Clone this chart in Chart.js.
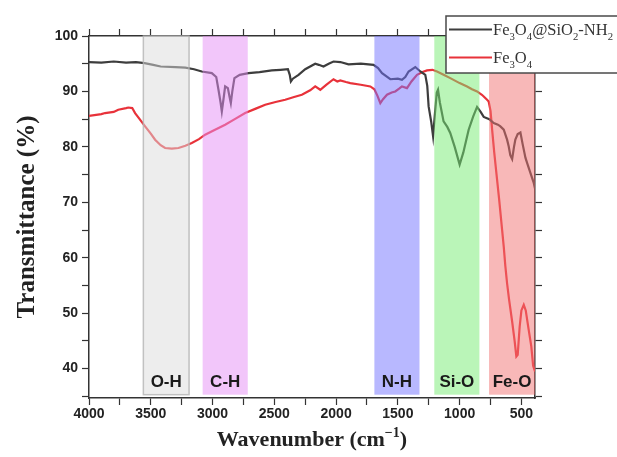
<!DOCTYPE html>
<html lang="en">
<head>
    <meta charset="UTF-8">
    <title>FTIR spectra</title>
    <script src="https://cdn.jsdelivr.net/npm/chart.js"></script>
    <style>
        body {
            margin: 0;
            background: #ffffff;
        }
        canvas {
            display: block;
        }
    </style>
</head>
<body>
    <canvas id="ftirChart" width="617" height="457"></canvas>

    <script>
        // Fe3O4@SiO2-NH2 spectrum (wavenumber, transmittance)
        const wnCoated = [4000, 3900, 3800, 3700, 3620, 3550, 3480, 3420, 3300, 3220, 3150, 3087, 3006, 2970, 2952, 2935, 2925, 2912, 2898, 2876, 2862, 2852, 2840, 2823, 2780, 2709, 2620, 2520, 2450, 2390, 2375, 2366, 2350, 2304, 2250, 2169, 2140, 2102, 2060, 2021, 1966, 1899, 1800, 1697, 1660, 1628, 1561, 1500, 1467, 1440, 1413, 1359, 1318, 1278, 1262, 1251, 1230, 1215, 1200, 1185, 1175, 1160, 1130, 1100, 1076, 1040, 1000, 970, 927, 890, 859, 830, 805, 760, 724, 690, 670, 643, 616, 603, 590, 575, 560, 549, 530, 508, 490, 467, 454, 430, 400, 390];
        const tCoated = [95.3, 95.2, 95.4, 95.2, 95.3, 95.1, 94.8, 94.5, 94.4, 94.3, 94.0, 93.6, 93.3, 92.6, 90.3, 88.0, 86.4, 88.5, 90.9, 90.6, 89.0, 87.9, 90.0, 92.4, 93.0, 93.3, 93.5, 93.8, 93.9, 94.0, 93.0, 91.8, 92.3, 93.0, 94.0, 95.0, 94.8, 94.5, 95.0, 95.4, 95.3, 94.9, 95.0, 94.8, 94.2, 93.3, 92.2, 92.3, 92.1, 92.6, 93.6, 94.4, 93.6, 93.0, 91.0, 87.3, 84.5, 81.9, 86.0, 89.8, 90.3, 88.0, 84.6, 83.6, 82.5, 80.0, 76.8, 79.0, 83.1, 85.5, 87.2, 86.3, 85.4, 85.0, 84.3, 84.0, 83.7, 83.1, 81.3, 80.1, 78.5, 77.8, 80.0, 81.3, 82.3, 82.6, 80.5, 78.0, 77.1, 75.5, 73.5, 72.5];

        // Fe3O4 spectrum
        const wnBare = [4000, 3900, 3870, 3800, 3763, 3700, 3682, 3650, 3627, 3590, 3546, 3500, 3465, 3420, 3384, 3330, 3276, 3220, 3168, 3110, 3060, 2980, 2898, 2820, 2736, 2650, 2574, 2490, 2412, 2340, 2277, 2210, 2169, 2128, 2080, 2021, 1990, 1966, 1920, 1885, 1800, 1723, 1690, 1665, 1642, 1620, 1588, 1550, 1521, 1490, 1467, 1426, 1390, 1345, 1300, 1264, 1220, 1183, 1130, 1076, 1000, 940, 900, 859, 820, 805, 778, 765, 750, 737, 720, 697, 680, 656, 643, 630, 616, 600, 575, 555, 541, 530, 514, 500, 481, 465, 441, 420, 405, 390];
        const tBare = [85.6, 85.9, 86.1, 86.3, 86.7, 87.0, 87.1, 87.0, 86.1, 85.0, 83.7, 82.4, 81.3, 80.3, 79.8, 79.7, 79.8, 80.2, 80.7, 81.4, 82.2, 83.1, 84.0, 85.0, 86.1, 86.9, 87.6, 88.1, 88.5, 89.0, 89.4, 90.2, 90.9, 90.3, 91.2, 92.2, 91.8, 92.0, 91.7, 91.5, 91.2, 90.9, 90.4, 89.2, 87.9, 88.6, 89.4, 89.8, 90.0, 90.5, 90.9, 90.6, 91.8, 93.0, 93.5, 93.8, 93.9, 93.6, 93.0, 92.4, 91.5, 90.9, 90.4, 90.0, 89.4, 89.1, 88.5, 88.2, 86.5, 83.1, 79.0, 74.1, 70.5, 65.0, 62.0, 58.5, 55.4, 52.5, 48.5, 45.0, 42.2, 42.5, 47.6, 50.5, 51.5, 50.5, 47.0, 44.0, 40.5, 39.5];

        // absorption regions
        const bandNames = ['O-H', 'C-H', 'N-H', 'Si-O', 'Fe-O'];
        const bandFrom = [3560, 3080, 1690, 1205, 762];
        const bandTo = [3190, 2715, 1325, 840, 390];
        const bandFill = ['rgba(220,220,220,0.5)', 'rgba(229,141,245,0.5)', 'rgba(113,113,255,0.5)', 'rgba(117,235,113,0.5)', 'rgba(241,113,113,0.5)'];

        // axis ticks
        const xTickValues = [4000, 3750, 3500, 3250, 3000, 2750, 2500, 2250, 2000, 1750, 1500, 1250, 1000, 750, 500];
        const xTickLabels = [4000, 3500, 3000, 2500, 2000, 1500, 1000, 500];
        const yTickValues = [35, 40, 45, 50, 55, 60, 65, 70, 75, 80, 85, 90, 95, 100];
        const yTickLabels = [40, 50, 60, 70, 80, 90, 100];

        const xMin = 390, xMax = 4000, yMin = 34.7, yMax = 100;
        const axisColor = '#333333';
        const tickFont = { family: '"Liberation Sans", Arial, sans-serif', size: 14, weight: 'bold' };
        const serif = '"Liberation Serif", "Times New Roman", serif';

        const toPoints = (xs, ys) => xs.map((x, i) => ({ x: x, y: ys[i] }));

        function drawFormula(ctx, parts, x, y, size) {
            // parts: [text, isSubscript]
            parts.forEach(([text, sub]) => {
                ctx.font = (sub ? size * 0.65 : size) + 'px ' + serif;
                ctx.fillText(text, x, sub ? y + size * 0.28 : y);
                x += ctx.measureText(text).width;
            });
        }

        // shaded bands and their labels, drawn over the spectra
        const bandPlugin = {
            id: 'bands',
            afterDatasetsDraw(chart) {
                const { ctx, chartArea, scales } = chart;
                const bottom = scales.y.getPixelForValue(35.3);
                ctx.save();
                bandNames.forEach((name, i) => {
                    const x1 = scales.x.getPixelForValue(bandFrom[i]);
                    const x2 = Math.min(scales.x.getPixelForValue(bandTo[i]), chartArea.right);
                    ctx.fillStyle = bandFill[i];
                    ctx.fillRect(x1, chartArea.top, x2 - x1, bottom - chartArea.top);
                    if (i === 0) {
                        ctx.strokeStyle = 'rgba(180,180,180,0.8)';
                        ctx.lineWidth = 1.5;
                        ctx.strokeRect(x1, chartArea.top, x2 - x1, bottom - chartArea.top);
                    }
                    ctx.fillStyle = '#1a1a1a';
                    ctx.font = 'bold 17px "Liberation Sans", Arial, sans-serif';
                    ctx.textAlign = 'center';
                    ctx.textBaseline = 'middle';
                    ctx.fillText(name, (x1 + x2) / 2, 382);
                });
                ctx.restore();
            },
            afterDraw(chart) {
                const { ctx, chartArea } = chart;
                ctx.save();
                // axis titles
                ctx.fillStyle = '#222222';
                ctx.textBaseline = 'alphabetic';
                ctx.font = 'bold 22px ' + serif;
                const main = 'Wavenumber (cm';
                const wMain = ctx.measureText(main).width;
                ctx.font = 'bold 14px ' + serif;
                const wSup = ctx.measureText('\u2212' + '1').width;
                ctx.font = 'bold 22px ' + serif;
                const wClose = ctx.measureText(')').width;
                let tx = (chartArea.left + chartArea.right) / 2 - (wMain + wSup + wClose) / 2;
                ctx.textAlign = 'left';
                ctx.fillText(main, tx, 446);
                tx += wMain;
                ctx.font = 'bold 14px ' + serif;
                ctx.fillText('\u2212' + '1', tx, 437);
                tx += wSup;
                ctx.font = 'bold 22px ' + serif;
                ctx.fillText(')', tx, 446);

                ctx.translate(34, (chartArea.top + chartArea.bottom) / 2);
                ctx.rotate(-Math.PI / 2);
                ctx.textAlign = 'center';
                ctx.font = 'bold 25px ' + serif;
                ctx.fillText('Transmittance (%)', 0, 0);
                ctx.restore();

                // legend box
                ctx.save();
                ctx.fillStyle = '#ffffff';
                ctx.strokeStyle = '#4a4a4a';
                ctx.lineWidth = 1.5;
                ctx.fillRect(446, 16, 200, 57);
                ctx.strokeRect(446, 16, 200, 57);
                const series = chart.data.datasets;
                const rows = [
                    [['Fe', 0], ['3', 1], ['O', 0], ['4', 1], ['@SiO', 0], ['2', 1], ['-NH', 0], ['2', 1]],
                    [['Fe', 0], ['3', 1], ['O', 0], ['4', 1]]
                ];
                rows.forEach((parts, i) => {
                    const ly = 29.5 + i * 28;
                    ctx.strokeStyle = series[i].borderColor;
                    ctx.lineWidth = 2;
                    ctx.beginPath();
                    ctx.moveTo(449, ly);
                    ctx.lineTo(492, ly);
                    ctx.stroke();
                    ctx.fillStyle = '#333333';
                    ctx.textAlign = 'left';
                    ctx.textBaseline = 'alphabetic';
                    drawFormula(ctx, parts, 493, ly + 5.5, 16.5);
                });
                ctx.restore();
            }
        };

        const ctx = document.getElementById('ftirChart').getContext('2d');

        const setXTicks = scale => { scale.ticks = xTickValues.map(v => ({ value: v })); };
        const setYTicks = scale => { scale.ticks = yTickValues.map(v => ({ value: v })); };
        const gridStyle = { drawOnChartArea: false, tickLength: 7, color: axisColor, tickWidth: 1.2 };
        const borderStyle = { color: axisColor, width: 1.5 };

        const ftirChart = new Chart(ctx, {
            type: 'line',
            data: {
                datasets: [
                    {
                        label: 'Fe3O4@SiO2-NH2',
                        data: toPoints(wnCoated, tCoated),
                        borderColor: '#3d3d3d',
                        borderWidth: 2.2,
                        pointRadius: 0,
                        tension: 0
                    },
                    {
                        label: 'Fe3O4',
                        data: toPoints(wnBare, tBare),
                        borderColor: '#e8323a',
                        borderWidth: 2.2,
                        pointRadius: 0,
                        tension: 0
                    }
                ]
            },
            options: {
                responsive: false,
                animation: false,
                devicePixelRatio: 1,
                layout: { padding: 0 },
                plugins: {
                    legend: { display: false },
                    tooltip: { enabled: false }
                },
                scales: {
                    x: {
                        type: 'linear',
                        position: 'bottom',
                        min: xMin,
                        max: xMax,
                        reverse: true,
                        afterBuildTicks: setXTicks,
                        afterFit: s => { s.height = 59; },
                        grid: gridStyle,
                        border: borderStyle,
                        ticks: {
                            autoSkip: false,
                            maxRotation: 0,
                            padding: 1,
                            color: '#222222',
                            font: tickFont,
                            callback: v => xTickLabels.includes(v) ? String(v) : ''
                        }
                    },
                    x2: {
                        type: 'linear',
                        position: 'top',
                        min: xMin,
                        max: xMax,
                        reverse: true,
                        afterBuildTicks: setXTicks,
                        afterFit: s => { s.height = 36; },
                        grid: gridStyle,
                        border: borderStyle,
                        ticks: { display: false }
                    },
                    y: {
                        position: 'left',
                        min: yMin,
                        max: yMax,
                        afterBuildTicks: setYTicks,
                        afterFit: s => { s.width = 89; },
                        grid: gridStyle,
                        border: borderStyle,
                        ticks: {
                            padding: 4,
                            color: '#222222',
                            font: tickFont,
                            callback: v => yTickLabels.includes(v) ? String(v) : ''
                        }
                    },
                    y2: {
                        position: 'right',
                        min: yMin,
                        max: yMax,
                        afterBuildTicks: setYTicks,
                        afterFit: s => { s.width = 82; },
                        grid: gridStyle,
                        border: borderStyle,
                        ticks: { display: false }
                    }
                }
            },
            plugins: [bandPlugin]
        });
    </script>
</body>
</html>
